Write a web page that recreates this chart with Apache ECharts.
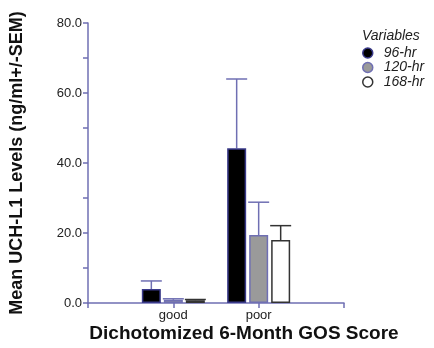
<!DOCTYPE html>
<html><head><meta charset="utf-8">
<script src="https://cdn.jsdelivr.net/npm/echarts@6/dist/echarts.min.js"></script>
<style>html,body{margin:0;padding:0;background:#fff}#c{width:434px;height:348px}</style>
</head><body><div id="c"></div>
<script>
var categories = ['', 'good', 'poor', ''];
var seriesNames = ['96-hr', '120-hr', '168-hr'];
var mean96 = ['-', 4.0, 44.2, '-'];
var err96 = ['-', 6.3, 64.0, '-'];
var mean120 = ['-', 0.9, 19.4, '-'];
var err120 = ['-', 1.2, 28.8, '-'];
var mean168 = ['-', 0.8, 18.0, '-'];
var err168 = ['-', 1.0, 22.1, '-'];
var yTicks = [0, 20, 40, 60, 80];

var BAR_W = 19, GAP = 3;
var axisCol = '#6f6fb3';
var fills = ['#000000', '#9a9a9a', '#ffffff'];
var borders = ['#3a3a8a', '#6f6fb3', '#333333'];
var errCols = [axisCol, axisCol, '#333333'];
var means = [mean96, mean120, mean168];
var errs = [err96, err120, err168];

var chart = echarts.init(document.getElementById('c'));
var series = [];
means.forEach(function (m, i) {
  series.push({
    type: 'bar', name: seriesNames[i], data: m, barWidth: BAR_W, barGap: (GAP / BAR_W * 100) + '%',
    itemStyle: { color: fills[i], borderColor: borders[i], borderWidth: 1.5 },
    emphasis: { disabled: true }, z: 3
  });
});
errs.forEach(function (e, i) {
  var offset = (i - 1) * (BAR_W + GAP);
  series.push({
    type: 'custom', silent: true, z: 2,
    data: e.map(function (v, k) { return [k, means[i][k], v]; }),
    renderItem: function (params, api) {
      var top = api.value(2);
      if (top === '-' || isNaN(top)) return null;
      var p0 = api.coord([api.value(0), api.value(1)]);
      var p1 = api.coord([api.value(0), top]);
      var x = p0[0] + offset;
      var half = BAR_W / 2 + 1;
      return { type: 'group', children: [
        { type: 'line', shape: { x1: x, y1: p0[1], x2: x, y2: p1[1] }, style: { stroke: errCols[i], lineWidth: 1.5 } },
        { type: 'line', shape: { x1: x - half, y1: p1[1], x2: x + half, y2: p1[1] }, style: { stroke: errCols[i], lineWidth: 1.5 } }
      ]};
    }
  });
});

chart.setOption({
  animation: false,
  grid: { left: 87, right: 90, top: 23, bottom: 45, containLabel: false },
  legend: {
    data: seriesNames.map(function (n, i) {
      return { name: n, itemStyle: { color: fills[i], borderColor: borders[i], borderWidth: 1.5 } };
    }),
    orient: 'vertical', left: 357, top: 46, padding: [0, 0, 0, 5], icon: 'circle', itemWidth: 10, itemHeight: 10, itemGap: 0.5,
    textStyle: { fontFamily: 'Liberation Sans', fontStyle: 'italic', fontSize: 14, lineHeight: 12, color: '#222', padding: [0, 0, 0, 6] },
    selectedMode: false
  },
  graphic: [
    { type: 'text', x: 362, y: 29, style: { text: 'Variables', font: 'italic 14px "Liberation Sans"', fill: '#222' } },
    { type: 'text', x: 244, y: 324, style: { text: 'Dichotomized 6-Month GOS Score', font: 'bold 19px "Liberation Sans"', fill: '#111', textAlign: 'center' } }
  ],
  xAxis: {
    type: 'category', data: categories, boundaryGap: false,
    axisLine: { lineStyle: { color: axisCol, width: 1.5 } },
    axisTick: { show: true, inside: false, length: 5, lineStyle: { color: axisCol, width: 1.5 } },
    axisLabel: { fontFamily: 'Liberation Sans', fontSize: 13, color: '#222', margin: 6 },
    splitLine: { show: false }
  },
  yAxis: {
    type: 'value', min: 0, max: 80, interval: 10,
    name: 'Mean UCH-L1 Levels (ng/ml+/-SEM)', nameLocation: 'middle', nameGap: 62, nameRotate: 90,
    nameTextStyle: { fontFamily: 'Liberation Sans', fontWeight: 'bold', fontSize: 18, color: '#111' },
    axisLine: { show: true, lineStyle: { color: axisCol, width: 1.5 } },
    axisTick: { show: true, length: 5, lineStyle: { color: axisCol, width: 1.5 } },
    axisLabel: { fontFamily: 'Liberation Sans', fontSize: 13, color: '#222', margin: 6,
      formatter: function (v) { return yTicks.indexOf(v) >= 0 ? v.toFixed(1) : ''; } },
    splitLine: { show: false }
  },
  series: series
});
</script></body></html>
